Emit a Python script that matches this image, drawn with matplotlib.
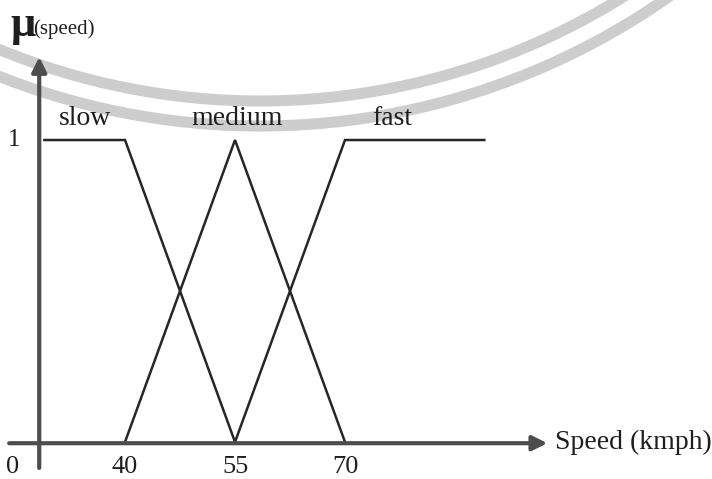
import matplotlib
matplotlib.use("Agg")
import matplotlib.pyplot as plt
from matplotlib.patches import Arc

plt.rcParams["font.family"] = ["Liberation Serif", "DejaVu Serif"]

# membership functions (speed in kmph, degree of membership)
slow_x = [29, 40, 55]
slow_mu = [1, 1, 0]
medium_x = [40, 55, 70]
medium_mu = [0, 1, 0]
fast_x = [55, 70, 89]
fast_mu = [0, 1, 1]

tick_values = [40, 55, 70]
tick_labels = ["40", "55", "70"]
set_names = ["slow", "medium", "fast"]
name_x = [34.5, 55.3, 76.5]

LINE = "#262626"
AXIS = "#4d4d4d"
TEXT = "#1e1e1e"

fig = plt.figure(figsize=(7.12, 4.79), dpi=100)

# faint watermark arcs of the scanned page (pixel coordinates)
bg = fig.add_axes([0, 0, 1, 1])
bg.set_xlim(0, 712)
bg.set_ylim(479, 0)
bg.axis("off")
for r in (686, 711):
    bg.add_patch(Arc((260, -585), 2 * r, 2 * r, theta1=0, theta2=180,
                     lw=8, color="#cdcdcd"))

ax = fig.add_axes([0, 0, 1, 1], facecolor="none")
ax.set_xlim(22.95, 120.05)
ax.set_ylim(-0.1225, 1.4636)
ax.axis("off")

# axes with arrow heads; the vertical axis pokes below the horizontal one
ax.annotate("", xy=(28.3, 1.275), xytext=(28.3, -0.086),
            arrowprops=dict(arrowstyle="-|>", lw=3, color=AXIS,
                            mutation_scale=22, shrinkA=0, shrinkB=0))
ax.annotate("", xy=(97.6, -0.004), xytext=(24.2, -0.004),
            arrowprops=dict(arrowstyle="-|>", lw=3, color=AXIS,
                            mutation_scale=22, shrinkA=0, shrinkB=0))

for xs, ys in [(slow_x, slow_mu), (medium_x, medium_mu), (fast_x, fast_mu)]:
    ax.plot(xs, ys, color=LINE, lw=1.8, solid_joinstyle="miter")

for name, x in zip(set_names, name_x):
    ax.text(x, 1.03, name, ha="center", va="bottom", fontsize=20, color=TEXT)

for v, lab in zip(tick_values, tick_labels):
    ax.text(v, -0.045, lab, ha="center", va="top", fontsize=19, color=TEXT)
ax.text(24.65, -0.045, "0", ha="center", va="top", fontsize=19, color=TEXT)
ax.text(24.9, 1.0, "1", ha="center", va="center", fontsize=18, color=TEXT)

ax.text(98.6, 0.0, "Speed (kmph)", ha="left", va="center", fontsize=20,
        color=TEXT)
ax.text(24.4, 1.345, "\u03bc", ha="left", va="baseline", fontsize=32,
        fontweight="bold", color=TEXT)
ax.text(27.5, 1.352, "(speed)", ha="left", va="baseline", fontsize=15,
        color=TEXT)

fig.savefig("out.png", dpi=100)
